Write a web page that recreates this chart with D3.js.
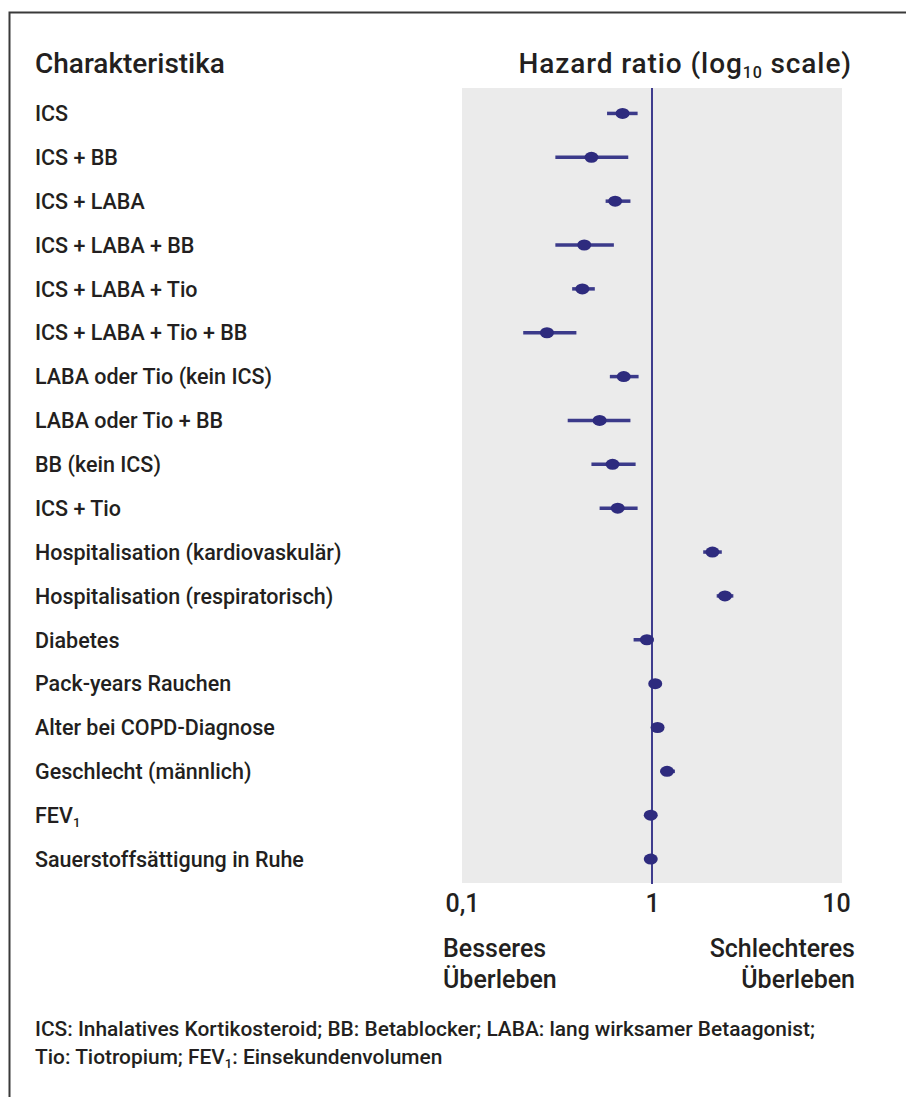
<!DOCTYPE html>
<html>
<head>
<meta charset="utf-8">
<script src="https://cdn.jsdelivr.net/npm/d3@7"></script>
<style>
  body { margin: 0; background: #fff; }
  text { font-family: Roboto, "Noto Sans", sans-serif; fill: #231f20; }
</style>
</head>
<body>
<div id="chart"></div>
<script>
var chart_width  = 906;
var chart_height = 1097;

// Data
var labels = [
  "ICS", "ICS + BB", "ICS + LABA", "ICS + LABA + BB", "ICS + LABA + Tio",
  "ICS + LABA + Tio + BB", "LABA oder Tio (kein ICS)", "LABA oder Tio + BB",
  "BB (kein ICS)", "ICS + Tio", "Hospitalisation (kardiovaskulär)",
  "Hospitalisation (respiratorisch)", "Diabetes", "Pack-years Rauchen",
  "Alter bei COPD-Diagnose", "Geschlecht (männlich)", "FEV1",
  "Sauerstoffsättigung in Ruhe"
];
var hr    = [0.70, 0.48, 0.64, 0.44, 0.43, 0.28, 0.71, 0.53, 0.62, 0.66, 2.08, 2.42, 0.94, 1.04, 1.07, 1.20, 0.985, 0.985];
var lower = [0.58, 0.31, 0.57, 0.31, 0.38, 0.21, 0.60, 0.36, 0.48, 0.53, 1.86, 2.19, 0.80, 1.02, 1.05, 1.11, 0.96, 0.96];
var upper = [0.84, 0.75, 0.77, 0.63, 0.50, 0.40, 0.85, 0.77, 0.82, 0.84, 2.33, 2.68, 1.02, 1.06, 1.09, 1.32, 1.01, 1.01];
var tick_values = [0.1, 1, 10];
var footnote = [
  "ICS: Inhalatives Kortikosteroid; BB: Betablocker; LABA: lang wirksamer Betaagonist;",
  ["Tio: Tiotropium; FEV", "1", ": Einsekundenvolumen"]
];

var rows = labels.map(function(l, i) {
  return { label: l, hr: hr[i], lo: lower[i], hi: upper[i] };
});

var x = d3.scaleLog()
  .domain([0.1, 10])
  .range([462, 842]);

var y = d3.scaleBand()
  .domain(labels)
  .range([91.5, 881]);

function cy(d) { return y(d.label) + y.bandwidth() / 2; }

var svg = d3.select("#chart")
  .append("svg")
  .attr("width", chart_width)
  .attr("height", chart_height);

// frame (left and top only)
svg.append("path")
  .attr("d", "M9.5," + chart_height + "V12.5H" + chart_width)
  .attr("fill", "none")
  .attr("stroke", "#3a3a3a")
  .attr("stroke-width", 2);

// titles
svg.append("text")
  .attr("x", 35).attr("y", 73)
  .style("font-size", "28px").style("font-weight", 500)
  .text("Charakteristika");

var ht = svg.append("text")
  .attr("x", 852).attr("y", 73)
  .attr("text-anchor", "end")
  .style("font-size", "28px").style("font-weight", 500)
  .style("letter-spacing", "0.9px");
ht.append("tspan").text("Hazard ratio (log");
ht.append("tspan").attr("dy", 5).style("font-size", "16px").text("10");
ht.append("tspan").attr("dy", -5).text(" scale)");

// plot background
svg.append("rect")
  .attr("x", x(0.1))
  .attr("y", 88)
  .attr("width", x(10) - x(0.1))
  .attr("height", 883 - 88)
  .attr("fill", "#ebebeb");

// reference line at 1
svg.append("line")
  .attr("x1", x(1)).attr("x2", x(1))
  .attr("y1", 88).attr("y2", 884)
  .attr("stroke", "#3f3d8e")
  .attr("stroke-width", 2);

// row labels
var lab = svg.append("g").selectAll("text")
  .data(rows)
  .enter()
  .append("text")
  .attr("x", 35)
  .attr("y", cy)
  .attr("dy", "0.36em")
  .style("font-size", "21.5px").style("font-weight", 500);

lab.each(function(d) {
  var t = d3.select(this);
  if (d.label === "FEV1") {
    t.append("tspan").text("FEV");
    t.append("tspan").attr("dy", 4).style("font-size", "13px").text("1");
  } else {
    t.text(d.label);
  }
});

// confidence intervals
var marks = svg.append("g");
marks.selectAll("line")
  .data(rows)
  .enter()
  .append("line")
  .attr("x1", function(d) { return x(d.lo); })
  .attr("x2", function(d) { return x(d.hi); })
  .attr("y1", cy)
  .attr("y2", cy)
  .attr("stroke", "#3b3a8a")
  .attr("stroke-width", 3.5);

// point estimates
marks.selectAll("ellipse")
  .data(rows)
  .enter()
  .append("ellipse")
  .attr("cx", function(d) { return x(d.hr); })
  .attr("cy", cy)
  .attr("rx", 7)
  .attr("ry", 5.5)
  .attr("fill", "#2e2b7e");

// x axis
var axis = svg.append("g")
  .attr("transform", "translate(0,883)")
  .call(d3.axisBottom(x)
    .tickValues(tick_values)
    .tickSize(0)
    .tickPadding(29)
    .tickFormat(function(d) { return String(d).replace(".", ","); }));
axis.select(".domain").remove();
axis.selectAll("text")
  .style("font-family", "Roboto, sans-serif")
  .style("font-size", "25px")
  .style("font-weight", 500)
  .attr("fill", "#231f20")
  .attr("dy", 0);
axis.selectAll(".tick").filter(function(d) { return d === 10; })
  .select("text").attr("dx", -6);

// direction labels
svg.append("text").attr("x", 443).attr("y", 957)
  .style("font-size", "25px").style("font-weight", 500).text("Besseres");
svg.append("text").attr("x", 443).attr("y", 988)
  .style("font-size", "25px").style("font-weight", 500).text("Überleben");
svg.append("text").attr("x", 855).attr("y", 957).attr("text-anchor", "end")
  .style("font-size", "25px").style("font-weight", 500).text("Schlechteres");
svg.append("text").attr("x", 855).attr("y", 988).attr("text-anchor", "end")
  .style("font-size", "25px").style("font-weight", 500).text("Überleben");

// footnote
svg.append("text").attr("x", 35).attr("y", 1036)
  .style("font-size", "20.9px").style("font-weight", 500)
  .text(footnote[0]);
var f2 = svg.append("text").attr("x", 35).attr("y", 1064)
  .style("font-size", "20.9px").style("font-weight", 500);
f2.append("tspan").text(footnote[1][0]);
f2.append("tspan").attr("dy", 4).style("font-size", "13px").text(footnote[1][1]);
f2.append("tspan").attr("dy", -4).text(footnote[1][2]);
</script>
</body>
</html>
